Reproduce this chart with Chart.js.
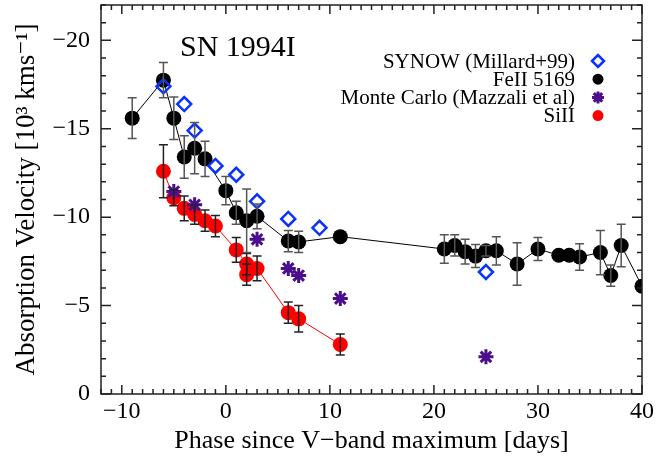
<!DOCTYPE html>
<html lang="en">
<head>
<meta charset="UTF-8">
<title>SN 1994I velocities</title>
<script src="https://cdn.jsdelivr.net/npm/chart.js"></script>
<style>
    body, html { margin: 0; padding: 0; background: #fff; }
</style>
</head>
<body>
<canvas id="chart" width="659" height="465"></canvas>
<script>
// SYNOW (Millard+99)
const synowDays = [-6, -4, -3, -1, 1, 3, 6, 9, 25];
const synowVel  = [-17.4, -16.4, -14.9, -12.9, -12.4, -10.9, -9.9, -9.4, -6.9];

// FeII 5169
const feDays = [-9, -6, -5, -4, -3, -2, 0, 1, 2, 3, 6, 7, 11, 21, 22, 23, 24, 25, 26, 28, 30, 32, 33, 34, 36, 37, 38, 40];
const feVel  = [-15.6, -17.75, -15.6, -13.4, -13.9, -13.3, -11.5, -10.25, -9.8, -10.05, -8.65, -8.6, -8.9,
                -8.2, -8.4, -8.05, -7.8, -8.1, -8.1, -7.35, -8.2, -7.85, -7.85, -7.75, -8.0, -6.7, -8.4, -6.1];
const feErr  = [1.15, 1.0, 1.2, 1.2, 1.45, 1.0, 0.8, 0.65, 1.8, 0.7, 0.6, 0.6, 0, 0.8, 0.6, 0.7, 0.65, 0.3, 0.8,
                1.2, 0.65, 0, 0, 0.75, 1.25, 0.6, 1.2, 0];

// Monte Carlo (Mazzali et al)
const mcDays = [-5, -3, 3, 6, 7, 11, 25];
const mcVel  = [-11.45, -10.7, -8.75, -7.1, -6.7, -5.4, -2.1];

// SiII
const siDays = [-6, -5, -4, -3, -2, -1, 1, 2, 2, 3, 6, 7, 11];
const siVel  = [-12.6, -11.1, -10.5, -10.15, -9.8, -9.5, -8.15, -7.35, -6.75, -7.1, -4.6, -4.25, -2.8];
const siErr  = [1.5, 0.45, 0.7, 0.55, 0.6, 0.6, 0.7, 0.6, 0.6, 0.7, 0.6, 0.75, 0.6];

const xTicks = [-10, 0, 10, 20, 30, 40];
const yTicks = [0, -5, -10, -15, -20];

const FONT = "'Liberation Serif', 'DejaVu Serif', serif";
const BLUE = '#0a32ff';
const PURPLE = '#4b0f8c';
const RED = '#ff0000';

function pts(xs, ys) {
    return xs.map((x, i) => ({ x: x, y: ys[i] }));
}
function fmt(v) {
    return v < 0 ? '\u2212' + Math.abs(v) : String(v);
}

// error bars on top of the points
const errorBars = {
    id: 'errorBars',
    afterDatasetsDraw(chart) {
        const ctx = chart.ctx, xs = chart.scales.x, ys = chart.scales.y, a = chart.chartArea;
        chart.data.datasets.forEach(ds => {
            if (!ds.errors) return;
            ctx.save();
            ctx.beginPath();
            ctx.rect(a.left, a.top, a.right - a.left, a.bottom - a.top);
            ctx.clip();
            ctx.strokeStyle = ds.errorColor;
            ctx.lineWidth = 1.5;
            ds.data.forEach((p, j) => {
                const e = ds.errors[j];
                if (!e) return;
                const px = xs.getPixelForValue(p.x);
                const y1 = ys.getPixelForValue(p.y - e);
                const y2 = ys.getPixelForValue(p.y + e);
                ctx.beginPath();
                ctx.moveTo(px, y1); ctx.lineTo(px, y2);
                ctx.moveTo(px - 4.5, y1); ctx.lineTo(px + 4.5, y1);
                ctx.moveTo(px - 4.5, y2); ctx.lineTo(px + 4.5, y2);
                ctx.stroke();
            });
            ctx.restore();
        });
    }
};

// box, inward ticks on all sides, title and legend
const decorations = {
    id: 'decorations',
    afterDraw(chart) {
        const ctx = chart.ctx, xs = chart.scales.x, ys = chart.scales.y, a = chart.chartArea;
        ctx.save();
        ctx.strokeStyle = '#222';
        ctx.lineWidth = 1.5;
        ctx.strokeRect(a.left, a.top, a.right - a.left, a.bottom - a.top);
        ctx.beginPath();
        for (let v = -12; v <= 40; v++) {
            const px = xs.getPixelForValue(v);
            const len = v % 10 === 0 ? 9 : 5;
            ctx.moveTo(px, a.bottom); ctx.lineTo(px, a.bottom - len);
            ctx.moveTo(px, a.top); ctx.lineTo(px, a.top + len);
        }
        for (let v = -22; v <= 0; v++) {
            const py = ys.getPixelForValue(v);
            const len = v % 5 === 0 ? 10 : 5;
            ctx.moveTo(a.left, py); ctx.lineTo(a.left + len, py);
            ctx.moveTo(a.right, py); ctx.lineTo(a.right - len, py);
        }
        ctx.stroke();

        ctx.fillStyle = '#000';
        ctx.font = '30px ' + FONT;
        ctx.textAlign = 'left';
        ctx.textBaseline = 'middle';
        ctx.fillText('SN 1994I', 180, 48);

        ctx.font = '21px ' + FONT;
        ctx.textAlign = 'right';
        const order = [0, 3, 1, 2];
        const labels = ['SYNOW (Millard+99)', 'FeII 5169', 'Monte Carlo (Mazzali et al)', 'SiII'];
        order.forEach((di, k) => {
            const ds = chart.data.datasets[di];
            const y = 61 + k * 18.2;
            ctx.fillStyle = '#000';
            ctx.fillText(labels[k], 575, y + 1);
            ctx.fillStyle = ds.pointBackgroundColor;
            ctx.strokeStyle = ds.pointBorderColor;
            ctx.lineWidth = ds.pointBorderWidth;
            Chart.helpers.drawPoint(ctx, {
                pointStyle: ds.pointStyle,
                radius: ds.legendRadius,
                rotation: 0,
                borderWidth: ds.pointBorderWidth
            }, 598, y);
        });
        ctx.restore();
    }
};

new Chart(document.getElementById('chart'), {
    type: 'scatter',
    data: {
        datasets: [{
            label: 'SYNOW (Millard+99)',
            data: pts(synowDays, synowVel),
            pointStyle: 'rectRot',
            pointRadius: 7,
            legendRadius: 6,
            pointBackgroundColor: 'rgba(255,255,255,0)',
            pointBorderColor: BLUE,
            pointBorderWidth: 2.5,
            borderWidth: 2.5,
            showLine: false
        }, {
            label: 'Monte Carlo (Mazzali et al)',
            data: pts(mcDays, mcVel),
            pointStyle: 'star',
            pointRadius: 7.5,
            legendRadius: 6,
            pointBackgroundColor: PURPLE,
            pointBorderColor: PURPLE,
            pointBorderWidth: 3,
            borderWidth: 3,
            showLine: false
        }, {
            label: 'SiII',
            data: pts(siDays, siVel),
            errors: siErr,
            errorColor: '#222',
            pointStyle: 'circle',
            pointRadius: 7.5,
            legendRadius: 5.5,
            pointBackgroundColor: RED,
            pointBorderColor: RED,
            pointBorderWidth: 0,
            borderColor: RED,
            borderWidth: 1,
            showLine: true
        }, {
            label: 'FeII 5169',
            data: pts(feDays, feVel),
            errors: feErr,
            errorColor: '#555',
            pointStyle: 'circle',
            pointRadius: 7.5,
            legendRadius: 5.5,
            pointBackgroundColor: '#000',
            pointBorderColor: '#000',
            pointBorderWidth: 0,
            borderColor: '#000',
            borderWidth: 1,
            showLine: true,
            clip: 0
        }]
    },
    options: {
        responsive: false,
        animation: false,
        devicePixelRatio: 1,
        layout: { autoPadding: false, padding: { top: 5, right: 17, left: 0, bottom: 0 } },
        plugins: { legend: { display: false }, tooltip: { enabled: false } },
        scales: {
            x: {
                type: 'linear',
                min: -12,
                max: 40,
                afterBuildTicks: s => { s.ticks = xTicks.map(v => ({ value: v })); },
                afterFit: s => { s.height = 71; s.paddingLeft = 0; s.paddingRight = 0; },
                grid: { display: false, drawTicks: false },
                border: { display: false },
                ticks: { font: { family: FONT, size: 24 }, color: '#000', padding: 3, maxRotation: 0, autoSkip: false, callback: fmt },
                title: { display: true, text: 'Phase since V\u2212band maximum [days]', color: '#000',
                         font: { family: FONT, size: 26 }, padding: { top: 0, bottom: 8 } }
            },
            y: {
                type: 'linear',
                min: -22,
                max: 0,
                reverse: true,
                afterBuildTicks: s => { s.ticks = yTicks.map(v => ({ value: v })); },
                afterFit: s => { s.width = 101; s.paddingTop = 0; s.paddingBottom = 0; },
                grid: { display: false, drawTicks: false },
                border: { display: false },
                ticks: { font: { family: FONT, size: 24 }, color: '#000', padding: 11, autoSkip: false, callback: fmt },
                title: { display: true, text: 'Absorption Velocity [10\u00b3 kms\u207b\u00b9]', color: '#000',
                         font: { family: FONT, size: 27 }, padding: { top: 11, bottom: 0 } }
            }
        }
    },
    plugins: [errorBars, decorations]
});
</script>
</body>
</html>
